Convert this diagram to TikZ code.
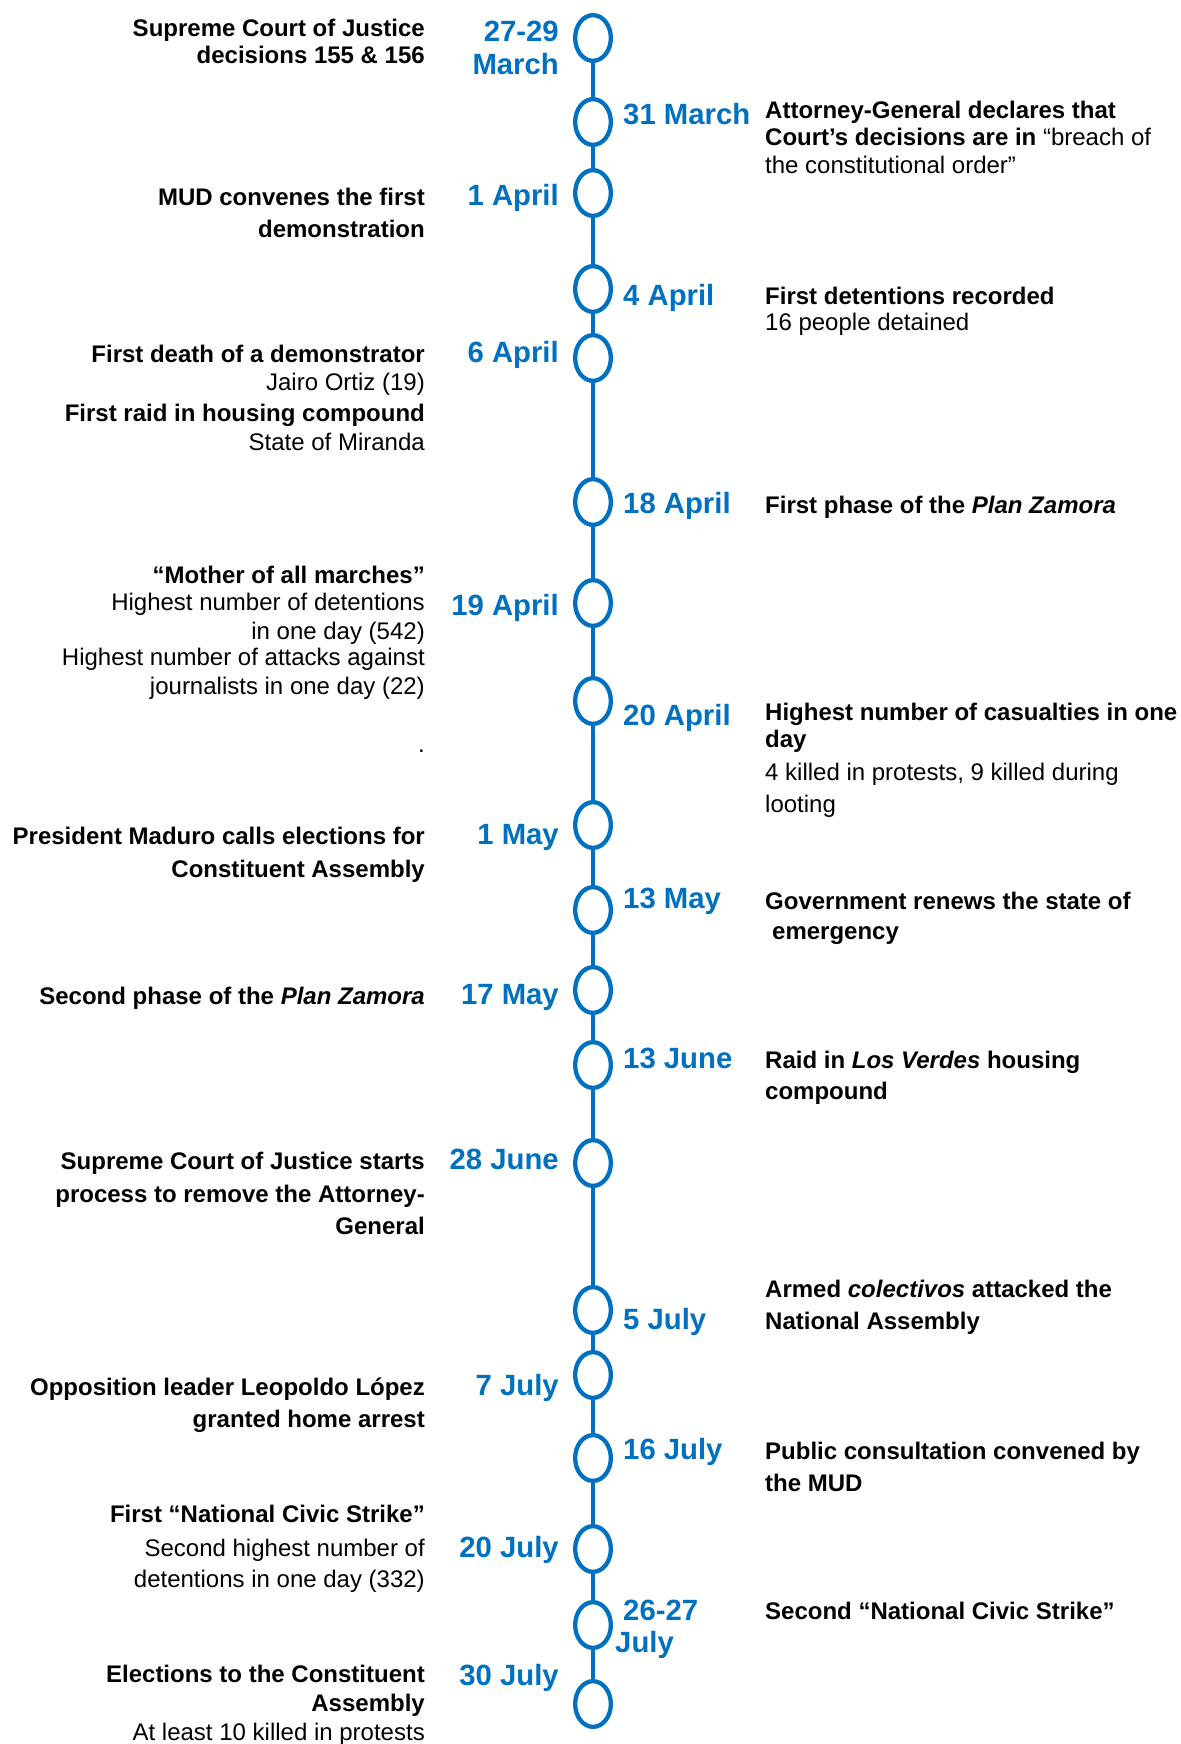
\documentclass[tikz,border=0pt]{standalone}
\usepackage{fontspec}
\setmainfont{Liberation Sans}
\usetikzlibrary{shapes.geometric}
\definecolor{tlblue}{HTML}{0070C0}
\begin{document}
\begin{tikzpicture}[x=1pt,y=-1pt,
  dot/.style={ellipse,draw=tlblue,line width=4.3pt,minimum width=35.7pt,minimum height=45.7pt,inner sep=0pt},
  link/.style={draw=tlblue,line width=4.3pt},
  lb/.style={inner sep=0pt,anchor=base east,font=\fontsize{24pt}{28pt}\selectfont\bfseries},
  lr/.style={inner sep=0pt,anchor=base east,font=\fontsize{24pt}{28pt}\selectfont},
  rb/.style={inner sep=0pt,anchor=base west,font=\fontsize{24pt}{28pt}\selectfont\bfseries},
  rr/.style={inner sep=0pt,anchor=base west,font=\fontsize{24pt}{28pt}\selectfont},
  dl/.style={inner sep=0pt,anchor=base east,text=tlblue,font=\fontsize{29.3pt}{32pt}\selectfont\bfseries},
  dr/.style={inner sep=0pt,anchor=base west,text=tlblue,font=\fontsize{29.3pt}{32pt}\selectfont\bfseries}
]
\useasboundingbox (0,0) rectangle (1180,1744);

% timeline ellipses
\node[dot] (e1) at (593,38) {};
\node[dot] (e2) at (593,122) {};
\node[dot] (e3) at (593,193) {};
\node[dot] (e4) at (593,289) {};
\node[dot] (e5) at (593,358) {};
\node[dot] (e6) at (593,502) {};
\node[dot] (e7) at (593,603) {};
\node[dot] (e8) at (593,701) {};
\node[dot] (e9) at (593,825) {};
\node[dot] (e10) at (593,910) {};
\node[dot] (e11) at (593,990) {};
\node[dot] (e12) at (593,1065) {};
\node[dot] (e13) at (593,1163) {};
\node[dot] (e14) at (593,1310) {};
\node[dot] (e15) at (593,1375) {};
\node[dot] (e16) at (593,1458) {};
\node[dot] (e17) at (593,1549) {};
\node[dot] (e18) at (593,1625) {};
\node[dot] (e19) at (593,1704) {};
\foreach \a/\b in {e1/e2,e2/e3,e3/e4,e4/e5,e5/e6,e6/e7,e7/e8,e8/e9,e9/e10,e10/e11,e11/e12,e12/e13,e13/e14,e14/e15,e15/e16,e16/e17,e17/e18,e18/e19}
  \draw[link] (\a) -- (\b);

\begin{scope}[yshift=-2pt]
% dates on the left
\node[dl] (d1a) at (559,40) {27-29};
\node[dl] (d1b) at (559,73) {March};
\node[dl] (d3) at (559,204) {1 April};
\node[dl] (d5) at (559,360) {6 April};
\node[dl] (d7) at (559,613) {19 April};
\node[dl] (d9) at (559,842) {1 May};
\node[dl] (d11) at (559,1002) {17 May};
\node[dl] (d13) at (559,1167) {28 June};
\node[dl] (d15) at (559,1393) {7 July};
\node[dl] (d17) at (559,1555) {20 July};
\node[dl] (d19) at (559,1683) {30 July};

% dates on the right
\node[dr] (d2) at (623,123) {31 March};
\node[dr] (d4) at (623,303) {4 April};
\node[dr] (d6) at (623,511) {18 April};
\node[dr] (d8) at (623,723) {20 April};
\node[dr] (d10) at (623,906) {13 May};
\node[dr] (d12) at (623,1066) {13 June};
\node[dr] (d14) at (623,1327) {5 July};
\node[dr] (d16) at (623,1457) {16 July};
\node[dr] (d18a) at (623,1618) {26-27};
\node[dr] (d18b) at (615,1650) {July};

% left texts
\node[lb] (t1a) at (425,35) {Supreme Court of Justice};
\node[lb] (t1b) at (425,62) {decisions 155 \& 156};
\node[lb] (t3a) at (425,204) {MUD convenes the first};
\node[lb] (t3b) at (425,236) {demonstration};
\node[lb] (t5a) at (425,360) {First death of a demonstrator};
\node[lr] (t5b) at (425,388) {Jairo Ortiz (19)};
\node[lb] (t5c) at (425,419) {First raid in housing compound};
\node[lr] (t5d) at (425,448) {State of Miranda};
\node[lb] (t7a) at (425,581) {“Mother of all marches”};
\node[lr] (t7b) at (425,608) {Highest number of detentions};
\node[lr] (t7c) at (425,637) {in one day (542)};
\node[lr] (t7d) at (425,663) {Highest number of attacks against};
\node[lr] (t7e) at (425,692) {journalists in one day (22)};
\node[lr] (t8x) at (425,750) {.};
\node[lb] (t9a) at (425,842) {President Maduro calls elections for};
\node[lb] (t9b) at (425,875) {Constituent Assembly};
\node[lb] (t11) at (425,1002) {Second phase of the \textit{Plan Zamora}};
\node[lb] (t13a) at (425,1167) {Supreme Court of Justice starts};
\node[lb] (t13b) at (425,1200) {process to remove the Attorney-};
\node[lb] (t13c) at (425,1232) {General};
\node[lb] (t15a) at (425,1393) {Opposition leader Leopoldo López};
\node[lb] (t15b) at (425,1425) {granted home arrest};
\node[lb] (t17a) at (425,1520) {First “National Civic Strike”};
\node[lr] (t17b) at (425,1554) {Second highest number of};
\node[lr] (t17c) at (425,1585) {detentions in one day (332)};
\node[lb] (t19a) at (425,1680) {Elections to the Constituent};
\node[lb] (t19b) at (425,1709) {Assembly};
\node[lr] (t19c) at (425,1738) {At least 10 killed in protests};

% right texts
\node[rb] (t2a) at (765,117) {Attorney-General declares that};
\node[rb] (t2b) at (765,144) {Court’s decisions are in \mdseries“breach of};
\node[rr] (t2c) at (765,172) {the constitutional order”};
\node[rb] (t4a) at (765,302) {First detentions recorded};
\node[rr] (t4b) at (765,328) {16 people detained};
\node[rb] (t6) at (765,511) {First phase of the \textit{Plan Zamora}};
\node[rb] (t8a) at (765,718) {Highest number of casualties in one};
\node[rb] (t8b) at (765,745) {day};
\node[rr] (t8c) at (765,778) {4 killed in protests, 9 killed during};
\node[rr] (t8d) at (765,810) {looting};
\node[rb] (t10a) at (765,907) {Government renews the state of};
\node[rb] (t10b) at (772,937) {emergency};
\node[rb] (t12a) at (765,1066) {Raid in \textit{Los Verdes} housing};
\node[rb] (t12b) at (765,1097) {compound};
\node[rb] (t14a) at (765,1295) {Armed \textit{colectivos} attacked the};
\node[rb] (t14b) at (765,1327) {National Assembly};
\node[rb] (t16a) at (765,1457) {Public consultation convened by};
\node[rb] (t16b) at (765,1489) {the MUD};
\node[rb] (t18) at (765,1617) {Second “National Civic Strike”};
\end{scope}
\end{tikzpicture}
\end{document}
